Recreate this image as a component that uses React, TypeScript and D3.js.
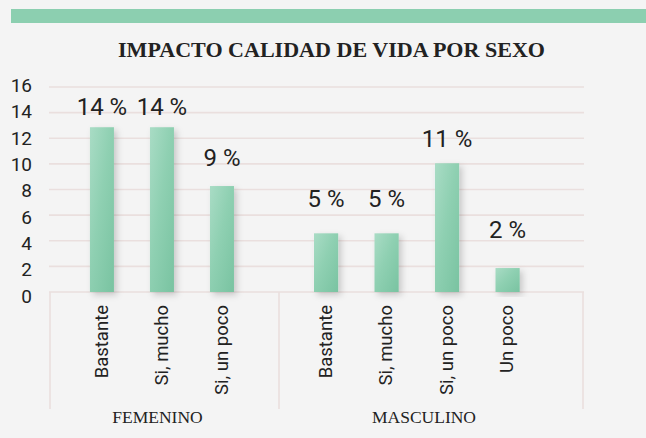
import React from "react";
import * as d3 from "d3";

const groups = ["FEMENINO", "MASCULINO"];
const femCats = ["Bastante", "Si, mucho", "Si, un poco"];
const femValues = [12.86, 12.86, 8.27];
const femLabels = ["14 %", "14 %", "9 %"];
const mascCats = ["Bastante", "Si, mucho", "Si, un poco", "Un poco"];
const mascValues = [4.58, 4.58, 10.05, 1.87];
const mascLabels = ["5 %", "5 %", "11 %", "2 %"];
const yTicks = [0, 2, 4, 6, 8, 10, 12, 14, 16];

const W = 646;
const H = 438;

export default function App() {
  const left = 50;
  const sep = 279;
  const right = 583;
  const y = d3.scaleLinear().domain([0, 16]).range([292, 87]);
  const yTickLabel = d3.scaleLinear().domain([0, 16]).range([296, 85]);
  const yDataLabel = d3.scaleLinear().domain([0, 16]).range([258.4, 80.5]);

  const xFem = d3.scaleBand<string>().domain(femCats).range([left, sep]).paddingInner(0.6).paddingOuter(0.708).align(0.47);
  const xMasc = d3.scaleBand<string>().domain(mascCats).range([sep, right]).paddingInner(0.6).paddingOuter(0.8125).align(0.356);

  const bars = [
    ...femCats.map((c, i) => ({ key: "f" + i, cat: c, v: femValues[i], lab: femLabels[i], x: xFem(c)!, w: xFem.bandwidth() })),
    ...mascCats.map((c, i) => ({ key: "m" + i, cat: c, v: mascValues[i], lab: mascLabels[i], x: xMasc(c)!, w: xMasc.bandwidth() })),
  ];

  const groupSpans = [
    { name: groups[0], x0: left, x1: sep },
    { name: groups[1], x0: sep, x1: right },
  ];

  const grid = "#eadfde";
  const sans = "Roboto, 'Liberation Sans', Arial, sans-serif";
  const serif = "'Liberation Serif', 'DejaVu Serif', serif";

  return (
    <svg width={W} height={H} style={{ position: "absolute", left: 0, top: 0 }}>
      <defs>
        <linearGradient id="barGrad" x1="0" y1="0" x2="1" y2="1">
          <stop offset="0%" stopColor="#a9dcc5" />
          <stop offset="45%" stopColor="#8fd0b2" />
          <stop offset="100%" stopColor="#79c3a1" />
        </linearGradient>
        <filter id="shadow" x="-50%" y="-20%" width="200%" height="140%">
          <feDropShadow dx="3" dy="3" stdDeviation="3" floodColor="#000" floodOpacity="0.18" />
        </filter>
      </defs>
      <rect x={0} y={0} width={W} height={H} fill="#f4f4f4" />
      <rect x={11} y={9} width={W - 11} height={14} fill="#8ccfb0" />
      <text
        x={331.5}
        y={57}
        textAnchor="middle"
        fontFamily={serif}
        fontWeight="bold"
        fontSize={21}
        textLength={427}
        lengthAdjust="spacingAndGlyphs"
        fill="#222"
      >
        IMPACTO CALIDAD DE VIDA POR SEXO
      </text>

      {yTicks.map((t) => (
        <g key={t}>
          <line x1={left - 1} x2={right + 1} y1={y(t)} y2={y(t)} stroke={grid} strokeWidth={1.6} />
          <text x={32} y={yTickLabel(t)} dy="0.36em" textAnchor="end" fontFamily={sans} fontSize={19} fill="#222">
            {t}
          </text>
        </g>
      ))}

      {[left, sep, right].map((x, i) => (
        <line key={i} x1={x} x2={x} y1={y(0)} y2={409} stroke={grid} strokeWidth={1.6} />
      ))}

      {bars.map((b) => (
        <g key={b.key}>
          <rect x={b.x} y={y(b.v)} width={b.w} height={y(0) - y(b.v)} fill="url(#barGrad)" filter="url(#shadow)" />
          <text x={b.x + b.w / 2} y={yDataLabel(b.v)} textAnchor="middle" fontFamily={sans} fontSize={24} fill="#222">
            {b.lab}
          </text>
          <text
            transform={`translate(${b.x + b.w / 2 - 1},305) rotate(-90)`}
            dy="0.36em"
            textAnchor="end"
            fontFamily={sans}
            fontSize={18.5}
            fill="#222"
          >
            {b.cat}
          </text>
        </g>
      ))}

      {groupSpans.map((g) => (
        <text key={g.name} x={(g.x0 + g.x1) / 2 - 7} y={423} textAnchor="middle" fontFamily={serif} fontSize={17.5} fill="#222">
          {g.name}
        </text>
      ))}
    </svg>
  );
}
